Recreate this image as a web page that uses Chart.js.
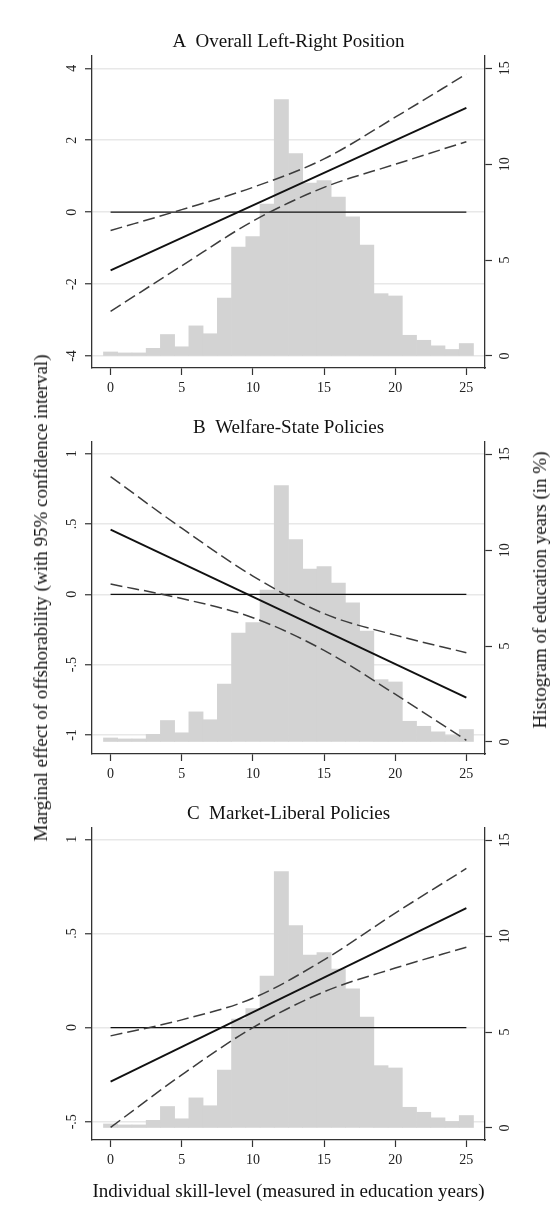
<!DOCTYPE html>
<html>
<head>
<meta charset="utf-8">
<script src="https://cdn.jsdelivr.net/npm/chart.js@4.4.1/dist/chart.umd.min.js"></script>
<style>
  body { margin: 0; background: #fff; }
  #wrap { position: relative; width: 557px; height: 1211px; }
  canvas { position: absolute; left: 0; }
  .side { position: absolute; font: 19px "Liberation Serif", serif; color: #111; white-space: nowrap;
          transform: translate(-50%, -50%) rotate(-90deg); }
</style>
</head>
<body>
<div id="wrap">
  <canvas id="panelA" width="557" height="400" style="top:0"></canvas>
  <canvas id="panelB" width="557" height="400" style="top:386px"></canvas>
  <canvas id="panelC" width="557" height="439" style="top:772px"></canvas>
  <div class="side" style="left:41px;top:598px">Marginal effect of offshorability (with 95% confidence interval)</div>
  <div class="side" style="left:540px;top:590px">Histogram of education years (in %)</div>
</div>
<script>
// education years (histogram bins, share of respondents in %)
const years = [0, 1, 2, 3, 4, 5, 6, 7, 8, 9, 10, 11, 12, 13, 14, 15, 16, 17, 18, 19, 20, 21, 22, 23, 24, 25];
const histPct = [0.21, 0.16, 0.16, 0.40, 1.12, 0.48, 1.57, 1.16, 3.02, 5.68, 6.22, 7.92, 13.37,
                 10.55, 9.01, 9.15, 8.29, 7.26, 5.78, 3.25, 3.13, 1.08, 0.82, 0.53, 0.34, 0.65];

// marginal effect lines
const lineEnds = [0, 25];
const zeroLine = [0, 0];
const ciYears = [0, 5, 10, 15, 20, 25];

// A  Overall Left-Right Position
const estA = [-1.62, 2.90];
const upperA = [-0.51, 0.07, 0.69, 1.48, 2.64, 3.84];
const lowerA = [-2.76, -1.49, -0.25, 0.69, 1.33, 1.96];

// B  Welfare-State Policies
const estB = [0.46, -0.735];
const upperB = [0.837, 0.47, 0.13, -0.137, -0.29, -0.415];
const lowerB = [0.073, -0.03, -0.166, -0.398, -0.71, -1.038];

// C  Market-Liberal Policies
const estC = [-0.287, 0.634];
const upperC = [-0.044, 0.041, 0.156, 0.36, 0.608, 0.845];
const lowerC = [-0.53, -0.251, 0.0, 0.19, 0.316, 0.427];

// tick labels
const xTicks = [0, 5, 10, 15, 20, 25];
const pctTicks = [0, 5, 10, 15];
const effTicksA = [-4, -2, 0, 2, 4];
const effTicksB = [-1, -0.5, 0, 0.5, 1];
const effTicksC = [-0.5, 0, 0.5, 1];

const SERIF = '"Liberation Serif", "Times New Roman", serif';
const tickFont = { family: SERIF, size: 14 };
const AXIS = '#333';

// Stata style: .5 instead of 0.5
const fmt = v => String(v).replace(/^(-?)0\./, '$1.');
const xy = (xs, ys) => xs.map((x, i) => ({ x: x, y: ys[i] }));
const fixTicks = arr => (s => { s.ticks = arr.map(v => ({ value: v })); });

function makePanel(id, title, est, upper, lower, effTicks, effMin, effMax, yPad, xTitle) {
    const ctx = document.getElementById(id);
    return new Chart(ctx, {
        type: 'bar',
        data: {
            datasets: [
                { type: 'line', data: xy(lineEnds, est), borderColor: '#111', borderWidth: 1.9,
                  pointRadius: 0, yAxisID: 'y', order: 1 },
                { type: 'line', data: xy(ciYears, upper), borderColor: '#3c3c3c', borderWidth: 1.5,
                  borderDash: [12, 5], pointRadius: 0, cubicInterpolationMode: 'monotone', yAxisID: 'y', order: 1 },
                { type: 'line', data: xy(ciYears, lower), borderColor: '#3c3c3c', borderWidth: 1.5,
                  borderDash: [12, 5], pointRadius: 0, cubicInterpolationMode: 'monotone', yAxisID: 'y', order: 1 },
                { type: 'line', data: xy(lineEnds, zeroLine), borderColor: '#111', borderWidth: 1.1,
                  pointRadius: 0, yAxisID: 'y', order: 1 },
                { type: 'bar', data: xy(years, histPct), backgroundColor: '#d3d3d3', borderWidth: 0,
                  barPercentage: 1, categoryPercentage: 1, yAxisID: 'y2', order: 2 }
            ]
        },
        options: {
            responsive: false,
            animation: false,
            events: [],
            layout: { padding: 0 },
            scales: {
                x: {
                    type: 'linear', min: -1.306, max: 26.31, offset: false,
                    afterBuildTicks: fixTicks(xTicks),
                    afterFit: s => { s.height = s.chart.height - 368; },
                    grid: { drawOnChartArea: false, offset: false, tickLength: 7, tickColor: AXIS, tickWidth: 1.2 },
                    border: { color: AXIS, width: 1.3 },
                    ticks: { padding: 5, color: '#222', font: tickFont, maxRotation: 0 },
                    title: xTitle
                        ? { display: true, text: xTitle, color: '#111', font: { family: SERIF, size: 19 },
                            padding: { top: 0, bottom: 7.6 } }
                        : { display: false }
                },
                y: {
                    position: 'left', min: effMin, max: effMax,
                    afterBuildTicks: fixTicks(effTicks),
                    afterFit: s => { s.width = 92; },
                    grid: { color: '#e8e8e8', lineWidth: 1.5, tickLength: 7, tickColor: AXIS, tickWidth: 1.2 },
                    border: { color: AXIS, width: 1.3 },
                    ticks: { minRotation: 90, maxRotation: 90, crossAlign: 'center', padding: yPad,
                             color: '#222', font: tickFont, callback: v => fmt(v) }
                },
                y2: {
                    position: 'right', min: -0.626, max: 15.64,
                    afterBuildTicks: fixTicks(pctTicks),
                    afterFit: s => { s.width = 72; },
                    grid: { drawOnChartArea: false, tickLength: 7, tickColor: AXIS, tickWidth: 1.2 },
                    border: { color: AXIS, width: 1.3 },
                    ticks: { minRotation: 90, maxRotation: 90, crossAlign: 'center', padding: 6,
                             color: '#222', font: tickFont }
                }
            },
            plugins: {
                legend: { display: false },
                tooltip: { enabled: false },
                title: {
                    display: true, text: title, fullSize: false, color: '#111',
                    font: { family: SERIF, size: 19, weight: 'normal' },
                    padding: { top: 30.3, bottom: 2.9 }
                }
            }
        }
    });
}

makePanel('panelA', 'A  Overall Left-Right Position', estA, upperA, lowerA, effTicksA, -4.333, 4.342, 7);
makePanel('panelB', 'B  Welfare-State Policies', estB, upperB, lowerB, effTicksB, -1.135, 1.083, 5.3);
makePanel('panelC', 'C  Market-Liberal Policies', estC, upperC, lowerC, effTicksC, -0.597, 1.06, 5.3,
          'Individual skill-level (measured in education years)');
</script>
</body>
</html>
